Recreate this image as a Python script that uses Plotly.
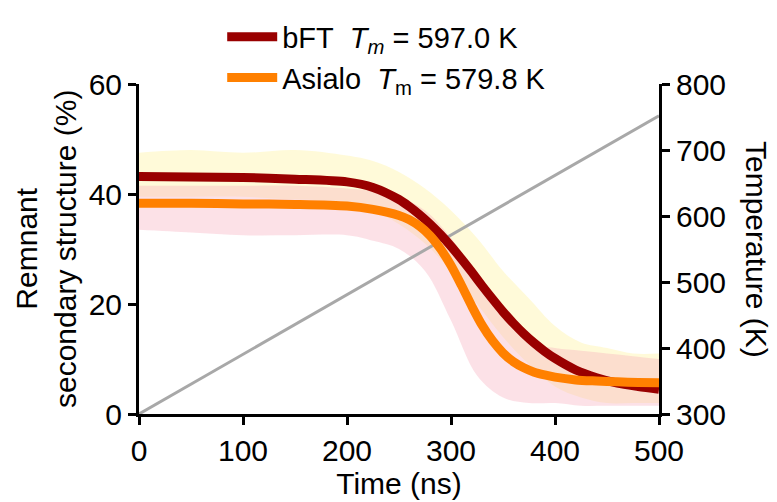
import plotly.graph_objects as go

# ---- data ----
fit_t = [0, 50, 100, 150, 200, 225, 250, 260, 270, 280, 290, 300, 310, 320, 330,
         340, 350, 360, 370, 380, 390, 400, 420, 440, 460, 480, 500]
bft_fit = [43.2, 43.1, 43.0, 42.7, 42.2, 41.2, 39.0, 37.7, 36.2, 34.5, 32.6, 30.5, 28.2,
           25.8, 23.3, 20.9, 18.6, 16.5, 14.6, 12.9, 11.4, 10.1, 8.0, 6.6, 5.6, 5.0, 4.5]
asialo_fit = [38.3, 38.3, 38.2, 38.1, 37.8, 37.2, 36.1, 35.3, 34.1, 32.4, 30.0, 27.0, 23.4,
              19.6, 16.1, 13.3, 11.1, 9.5, 8.4, 7.6, 7.1, 6.7, 6.2, 6.0, 5.85, 5.75, 5.7]

band_t = [0, 50, 100, 150, 200, 225, 250, 275, 300, 325, 350, 375, 400, 425, 450, 475, 500]
bft_hi = [47.5, 48, 47.5, 48, 47, 46, 44, 41, 37, 32, 26, 21, 16, 13, 12, 11, 11]
bft_lo = [39.5, 39.5, 39.5, 39, 38.5, 37, 34.5, 31, 26, 20, 14, 9, 5, 3, 2, 2, 2]
asialo_hi = [41.5, 41.5, 41.5, 41.5, 41, 40.5, 39.5, 37, 32, 25, 18, 13, 12, 11.5, 11, 10.5, 10]
asialo_lo = [33.5, 33, 32.5, 32.5, 32.5, 31.5, 30, 26, 17, 7, 3, 2, 2, 1.5, 1.5, 1.5, 1.5]

temp_t = [0, 500]
temp_k = [300, 752]

x_ticks = [0, 100, 200, 300, 400, 500]
y_ticks = [0, 20, 40, 60]
y2_ticks = [300, 400, 500, 600, 700, 800]

DARK = "#990000"
ORANGE = "#FF8000"
FONT = "Liberation Sans, Arial, sans-serif"

fig = go.Figure()

# noisy raw-data clouds as envelopes
fig.add_trace(go.Scatter(x=band_t, y=bft_lo, mode="lines", line=dict(width=0, shape="spline"),
                         showlegend=False, hoverinfo="skip"))
fig.add_trace(go.Scatter(x=band_t, y=bft_hi, mode="lines", line=dict(width=0, shape="spline"),
                         fill="tonexty", fillcolor="rgba(255,245,170,0.45)",
                         showlegend=False, hoverinfo="skip"))
fig.add_trace(go.Scatter(x=band_t, y=asialo_lo, mode="lines", line=dict(width=0, shape="spline"),
                         showlegend=False, hoverinfo="skip"))
fig.add_trace(go.Scatter(x=band_t, y=asialo_hi, mode="lines", line=dict(width=0, shape="spline"),
                         fill="tonexty", fillcolor="rgba(245,170,185,0.35)",
                         showlegend=False, hoverinfo="skip"))

# temperature ramp
fig.add_trace(go.Scatter(x=temp_t, y=temp_k, yaxis="y2", mode="lines",
                         line=dict(color="#A8A8A8", width=3), showlegend=False))

# fits
fig.add_trace(go.Scatter(x=fit_t, y=bft_fit, yaxis="y3", mode="lines",
                         line=dict(color=DARK, width=9, shape="spline", smoothing=0.8),
                         name="bFT\u00a0\u00a0<i>T<sub>m</sub></i> = 597.0 K"))
fig.add_trace(go.Scatter(x=fit_t, y=asialo_fit, yaxis="y3", mode="lines",
                         line=dict(color=ORANGE, width=9, shape="spline", smoothing=0.8),
                         name="Asialo\u00a0\u00a0<i>T</i><sub>m</sub> = 579.8 K"))

axis_common = dict(showgrid=False, zeroline=False, showline=True, linecolor="black",
                   linewidth=3, ticks="outside", ticklen=8, tickwidth=3, tickcolor="black",
                   tickfont=dict(size=30, color="black", family=FONT))

fig.update_layout(
    width=777, height=502,
    margin=dict(l=139, r=118, t=74, b=84),
    paper_bgcolor="white", plot_bgcolor="white",
    font=dict(family=FONT, color="black", size=30),
    xaxis=dict(range=[0, 500], tickvals=x_ticks, **axis_common,
               title=dict(text="Time (ns)", font=dict(size=30), standoff=2)),
    yaxis=dict(range=[0, 60], tickvals=y_ticks, **axis_common),
    yaxis2=dict(range=[300, 800], tickvals=y2_ticks, overlaying="y", side="right",
                **axis_common),
    yaxis3=dict(range=[0, 60], overlaying="y", visible=False),
    legend=dict(x=0.16, xanchor="left", y=1.22, yanchor="top", bgcolor="rgba(0,0,0,0)",
                traceorder="normal",
                font=dict(size=29, family=FONT), itemwidth=50, tracegroupgap=0),
    annotations=[
        dict(text="Remnant<br>secondary structure (%)", textangle=-90, xref="paper", yref="paper",
             x=(46 - 139) / 520, y=0.5, xanchor="center", yanchor="middle", showarrow=False,
             font=dict(size=30, family=FONT)),
        dict(text="Temperature (K)", textangle=90, xref="paper", yref="paper",
             x=(757 - 139) / 520, y=0.5, xanchor="center", yanchor="middle", showarrow=False,
             font=dict(size=30, family=FONT)),
    ],
)

fig.write_html("out.html")
